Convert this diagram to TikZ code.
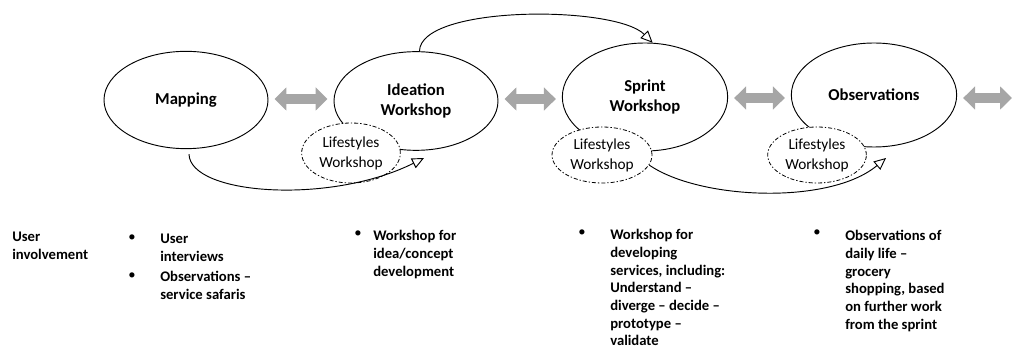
\documentclass[tikz,border=0pt]{standalone}
\usepackage{fontspec}
\setmainfont{Carlito}
\usetikzlibrary{shapes.geometric, arrows.meta, positioning}

\definecolor{swapgray}{HTML}{A6A6A6}

\tikzset{
  phase/.style={ellipse, draw, line width=0.7pt, fill=white, inner sep=0pt, align=center,
    minimum width=123pt, minimum height=73pt,
    font=\fontsize{12.5}{15}\selectfont\bfseries},
  lifestyle/.style={ellipse, draw, line width=0.6pt, fill=white, inner sep=0pt, align=center,
    minimum width=74pt, minimum height=43pt,
    dash pattern=on 3pt off 1.5pt on 1pt off 1.5pt,
    font=\fontsize{11.5}{15}\selectfont},
  swap/.style={draw=swapgray, line width=7.5pt,
    {Triangle[length=9pt,width=17pt]}-{Triangle[length=9pt,width=17pt]},
    shorten <=4.5pt, shorten >=4.5pt},
  loop/.style={draw, line width=0.7pt, -{Triangle[open,length=9pt,width=8pt]}},
  note/.style={anchor=north west, inner sep=0pt, align=left,
    font=\fontsize{11}{13.3}\selectfont\bfseries},
  dot/.style={inner sep=0pt, font=\fontsize{11}{13.3}\selectfont}
}

\begin{document}
\begin{tikzpicture}[x=0.75pt, y=-0.75pt]
\useasboundingbox (0,0) rectangle (1023,352);

% phases
\node[phase] (map) at (186,100) {Mapping};
\node[phase, minimum height=74pt] (idea) at (416,101) {Ideation\\Workshop};
\node[phase, minimum height=81pt, minimum width=124pt] (sprint) at (645,97) {Sprint\\Workshop};
\node[phase, minimum height=78pt, minimum width=124pt] (obs) at (874,95) {Observations};

% lifestyles workshops sit on top of the phases
\node[lifestyle, minimum height=45pt] (life1) at (351,153) {Lifestyles\\Workshop};
\node[lifestyle, minimum width=75pt, minimum height=42pt] (life2) at (602,155) {Lifestyles\\Workshop};
\node[lifestyle, minimum height=42pt] (life3) at (817,155) {Lifestyles\\Workshop};

% gray links between phases
\coordinate (edge) at (1018,98);
\draw[swap] (map.east |- 0,99) -- (idea.west |- 0,99);
\draw[swap] (idea.east |- 0,99) -- (sprint.west |- 0,99);
\draw[swap] (sprint.east |- 0,98) -- (obs.west |- 0,98);
\draw[swap] (obs.east |- edge) -- (edge);

% loops
\coordinate (idea-in) at (424,158);
\coordinate (obs-in) at (886,158);
\draw[loop] (idea.86) .. controls (420,5) and (615,5) .. (sprint.82);
\draw[loop] (map.south) ++(3,5) .. controls (190,195) and (330,205) .. (idea-in);
\draw[loop] (life2.-12) .. controls (700,200) and (830,205) .. (obs-in);

% user involvement row
\node[note] (who) at (12,232) {User\\involvement};

\node[dot] (d1) at (132,238) {\textbullet};
\node[note] (n1) at (160,234) {User\\interviews};
\node[dot] (d2) at (132,276) {\textbullet};
\node[note] (n2) at (160,271) {Observations --\\service safaris};

\node[dot] (d3) at (358,234) {\textbullet};
\node[note] (n3) at (373,230) {Workshop for\\idea/concept\\development};

\node[dot] (d4) at (582,233) {\textbullet};
\node[note] (n4) at (610,229) {Workshop for\\developing\\services, including:\\Understand --\\diverge -- decide --\\prototype --\\validate};

\node[dot] (d5) at (817,233) {\textbullet};
\node[note] (n5) at (845,230) {Observations of\\daily life --\\grocery\\shopping, based\\on further work\\from the sprint};
\end{tikzpicture}
\end{document}
